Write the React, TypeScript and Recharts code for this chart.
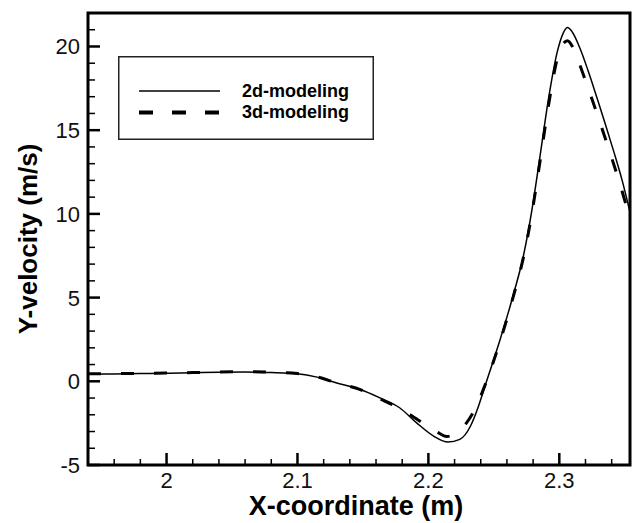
import React from "react";
import {
  LineChart,
  Line,
  XAxis,
  YAxis,
  ReferenceArea,
  Legend,
  Label,
} from "recharts";

// Y-velocity profile along the X coordinate, 2D vs 3D model
const xs2d = [
  1.94, 1.96, 1.98, 2.0, 2.02, 2.04, 2.06, 2.08, 2.1, 2.115, 2.13, 2.148, 2.163,
  2.178, 2.191, 2.204, 2.215, 2.224, 2.232, 2.238, 2.2434, 2.2548, 2.265, 2.2726,
  2.279, 2.285, 2.2918, 2.2982, 2.303, 2.3063, 2.31, 2.316, 2.322, 2.3287, 2.335,
  2.3415, 2.348, 2.354,
];
const ys2d = [
  0.42, 0.44, 0.46, 0.48, 0.51, 0.54, 0.55, 0.52, 0.45, 0.25, -0.1, -0.49, -0.99,
  -1.58, -2.48, -3.27, -3.63, -3.47, -2.7, -1.55, -0.25, 2.5, 5.2, 7.5,
  10.2, 13.3, 16.9, 19.6, 20.8, 21.13, 20.85, 19.85, 18.55, 16.95, 15.4,
  13.75, 12.0, 10.1,
];

const xs3d = [
  1.94, 1.96, 1.98, 2.0, 2.02, 2.04, 2.06, 2.08, 2.1, 2.115, 2.13, 2.148, 2.163,
  2.175, 2.186, 2.1975, 2.207, 2.214, 2.2217, 2.229, 2.236, 2.2434, 2.2548, 2.265,
  2.2726, 2.279, 2.285, 2.2918, 2.2982, 2.3007, 2.3063, 2.31, 2.3147, 2.32, 2.325,
  2.3326, 2.3402, 2.347, 2.354,
];
const ys3d = [
  0.45, 0.46, 0.47, 0.49, 0.52, 0.56, 0.57, 0.54, 0.46, 0.26, -0.1, -0.5, -1.05,
  -1.5, -2.0, -2.58, -3.05, -3.3, -3.05, -2.5, -1.6, -0.2, 2.4, 5.1,
  7.4, 10.0, 13.0, 16.5, 19.2, 19.85, 20.34, 20.0, 19.1, 17.95, 16.85,
  15.1, 13.3, 11.6, 9.7,
];

const xMajorTicks = [2, 2.1, 2.2, 2.3];
const xMinorTicks = [
  1.96, 1.98, 2.02, 2.04, 2.06, 2.08, 2.12, 2.14, 2.16, 2.18, 2.22, 2.24, 2.26,
  2.28, 2.32, 2.34,
];
const yMajorTicks = [-5, 0, 5, 10, 15, 20];
const yMinorTicks = [
  -4, -3, -2, -1, 1, 2, 3, 4, 6, 7, 8, 9, 11, 12, 13, 14, 16, 17, 18, 19, 21,
];

const xDomain: [number, number] = [1.94, 2.354];
const yDomain: [number, number] = [-5, 22];

const seriesNames = ["2d-modeling", "3d-modeling"];
const xTitle = "X-coordinate (m)";
const yTitle = "Y-velocity (m/s)";

const data2d = xs2d.map((x, i) => ({ x, y: ys2d[i] }));
const data3d = xs3d.map((x, i) => ({ x, y: ys3d[i] }));

const FONT = "'Liberation Sans', Arial, Helvetica, sans-serif";

const XTick = (props: any) => {
  const { x, y, payload } = props;
  const major = xMajorTicks.includes(payload.value);
  return (
    <g>
      <line
        x1={x}
        x2={x}
        y1={y}
        y2={y - (major ? 12 : 6)}
        stroke="#000"
        strokeWidth={major ? 2.5 : 1.5}
      />
      {major && (
        <text
          x={x}
          y={y}
          dy={23}
          textAnchor="middle"
          fontFamily={FONT}
          fontSize={22}
          fill="#111"
        >
          {String(payload.value)}
        </text>
      )}
    </g>
  );
};

const YTick = (props: any) => {
  const { x, y, payload } = props;
  const major = yMajorTicks.includes(payload.value);
  return (
    <g>
      <line
        x1={x}
        x2={x + (major ? 12 : 7)}
        y1={y}
        y2={y}
        stroke="#000"
        strokeWidth={major ? 2.5 : 1.5}
      />
      {major && (
        <text
          x={x - 8}
          y={y}
          dy="0.36em"
          textAnchor="end"
          fontFamily={FONT}
          fontSize={22}
          fill="#111"
        >
          {String(payload.value)}
        </text>
      )}
    </g>
  );
};

const LegendBox = () => (
  <svg width={256} height={84} style={{ display: "block" }}>
    <rect x={0.75} y={0.75} width={254.5} height={82.5} fill="#fff" stroke="#222" strokeWidth={1.5} />
    <line x1={21} x2={102} y1={35} y2={35} stroke="#000" strokeWidth={1.5} />
    <line x1={21} x2={101} y1={56.5} y2={56.5} stroke="#000" strokeWidth={4} strokeDasharray="14 19" />
    <text x={124} y={41} fontFamily={FONT} fontSize={18} fontWeight="bold" fill="#000">
      {seriesNames[0]}
    </text>
    <text x={124} y={62} fontFamily={FONT} fontSize={18} fontWeight="bold" fill="#000">
      {seriesNames[1]}
    </text>
  </svg>
);

export default function App() {
  return (
    <div style={{ position: "absolute", left: 0, top: 0, background: "#fff" }}>
      <LineChart
        width={636}
        height={523}
        margin={{ top: 13, right: 6, bottom: 0, left: 0 }}
      >
        <XAxis
          dataKey="x"
          type="number"
          domain={xDomain}
          allowDataOverflow
          ticks={[...xMajorTicks, ...xMinorTicks]}
          interval={0}
          tickSize={0}
          tickMargin={0}
          tick={<XTick />}
          axisLine={false}
          height={58}
        >
          <Label
            content={(p: any) => {
              const vb = p.viewBox;
              return (
                <text
                  x={vb.x + vb.width / 2 - 3}
                  y={vb.y + 50}
                  textAnchor="middle"
                  fontFamily={FONT}
                  fontSize={27}
                  fontWeight="bold"
                  fill="#000"
                >
                  {xTitle}
                </text>
              );
            }}
          />
        </XAxis>
        <YAxis
          type="number"
          domain={yDomain}
          allowDataOverflow
          ticks={[...yMajorTicks, ...yMinorTicks]}
          interval={0}
          tickSize={0}
          tickMargin={0}
          tick={<YTick />}
          axisLine={false}
          width={88}
        >
          <Label
            content={(p: any) => {
              const vb = p.viewBox;
              const cx = 28;
              const cy = vb.y + vb.height / 2;
              return (
                <text
                  x={cx}
                  y={cy}
                  dy="0.36em"
                  transform={`rotate(-90 ${cx} ${cy})`}
                  textAnchor="middle"
                  fontFamily={FONT}
                  fontSize={26}
                  fontWeight="bold"
                  fill="#000"
                >
                  {yTitle}
                </text>
              );
            }}
          />
        </YAxis>
        <Legend
          layout="horizontal"
          verticalAlign="middle"
          align="center"
          wrapperStyle={{ left: 118, top: 56, width: 256, height: 84 }}
          content={() => <LegendBox />}
        />
        <Line
          data={data3d}
          dataKey="y"
          name={seriesNames[1]}
          type="monotone"
          stroke="#000"
          strokeWidth={3}
          strokeDasharray="13 20"
          dot={false}
          activeDot={false}
          isAnimationActive={false}
        />
        <Line
          data={data2d}
          dataKey="y"
          name={seriesNames[0]}
          type="monotone"
          stroke="#000"
          strokeWidth={1.5}
          dot={false}
          activeDot={false}
          isAnimationActive={false}
        />
        <ReferenceArea
          x1={xDomain[0]}
          x2={xDomain[1]}
          y1={yDomain[0]}
          y2={yDomain[1]}
          fill="none"
          stroke="#000"
          strokeWidth={3}
          ifOverflow="visible"
        />
      </LineChart>
    </div>
  );
}
